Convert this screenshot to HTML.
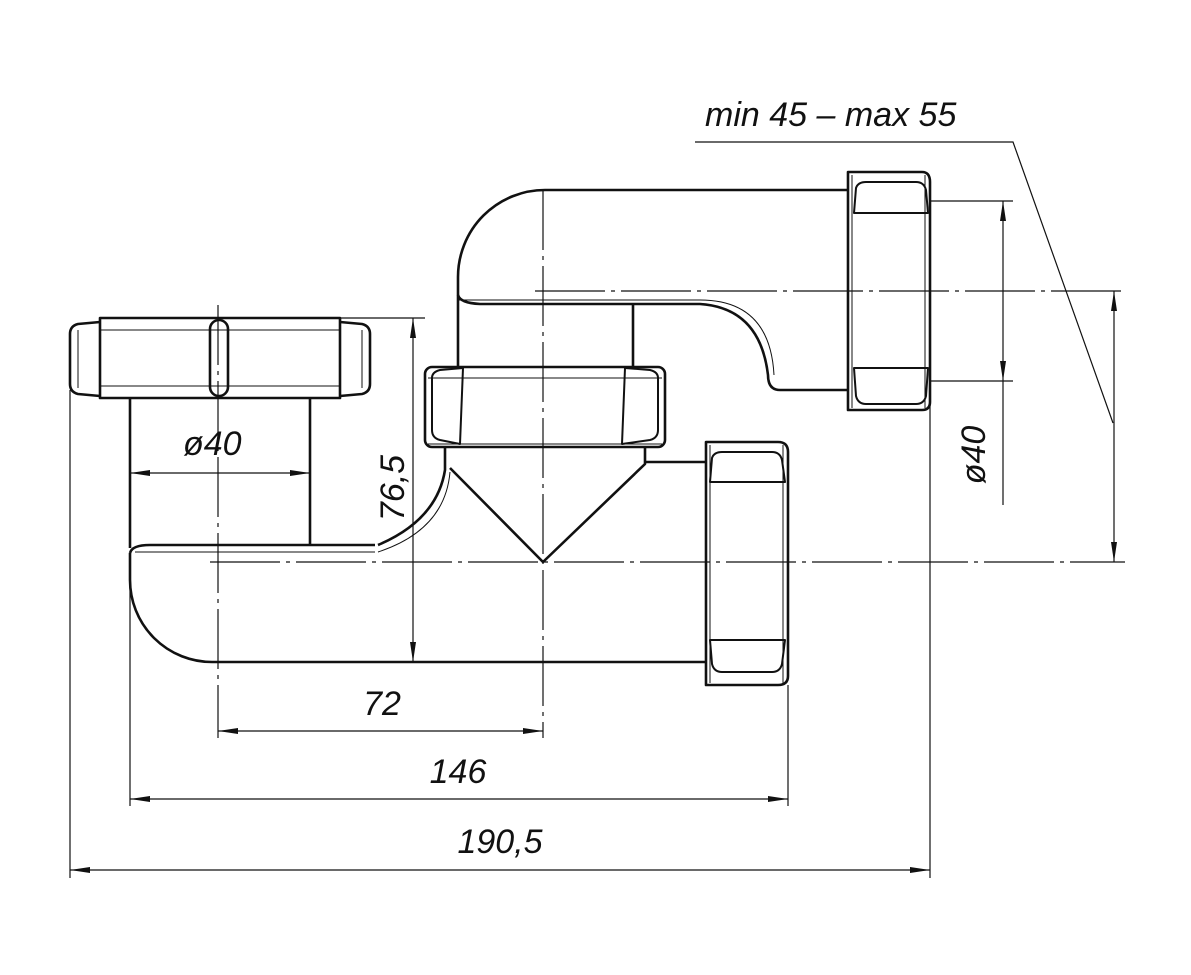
<!DOCTYPE html>
<html><head><meta charset="utf-8"><style>html,body{margin:0;padding:0;background:#fff}svg{display:block}text{font-family:"Liberation Sans",sans-serif;font-style:italic;fill:#111}</style></head>
<body>
<svg width="1191" height="975" viewBox="0 0 1191 975" xmlns="http://www.w3.org/2000/svg">
<defs>
<marker id="a" viewBox="0 0 20 6" refX="20" refY="3" markerWidth="20" markerHeight="6" markerUnits="userSpaceOnUse" orient="auto-start-reverse"><path d="M0,0 L20,3 L0,6z" fill="#111"/></marker>
</defs>
<g fill="none" stroke="#111">
<!-- thin lines -->
<g stroke-width="1.2">
<line x1="543" y1="190" x2="543" y2="738" stroke-dasharray="60,6,4,6"/>
<line x1="218" y1="305" x2="218" y2="738" stroke-dasharray="60,6,4,6"/>
<line x1="210" y1="562" x2="1125" y2="562" stroke-dasharray="70,6,4,6"/>
<line x1="535" y1="291" x2="1125" y2="291" stroke-dasharray="70,6,4,6"/>
<line x1="70" y1="390" x2="70" y2="878"/>
<line x1="930" y1="380" x2="930" y2="878"/>
<line x1="130" y1="580" x2="130" y2="806"/>
<line x1="788" y1="685" x2="788" y2="806"/>
<line x1="340" y1="318" x2="425" y2="318"/>
<line x1="930" y1="201" x2="1013" y2="201"/>
<line x1="930" y1="381" x2="1013" y2="381"/>
<line x1="413" y1="318" x2="413" y2="662" marker-start="url(#a)" marker-end="url(#a)"/>
<line x1="130" y1="473" x2="310" y2="473" marker-start="url(#a)" marker-end="url(#a)"/>
<line x1="218" y1="731" x2="543" y2="731" marker-start="url(#a)" marker-end="url(#a)"/>
<line x1="130" y1="799" x2="788" y2="799" marker-start="url(#a)" marker-end="url(#a)"/>
<line x1="70" y1="870" x2="930" y2="870" marker-start="url(#a)" marker-end="url(#a)"/>
<line x1="1003" y1="201" x2="1003" y2="381" marker-start="url(#a)" marker-end="url(#a)"/>
<line x1="1003" y1="381" x2="1003" y2="505"/>
<line x1="1114" y1="291" x2="1114" y2="562" marker-start="url(#a)" marker-end="url(#a)"/>
<polyline points="695,142 1013,142 1113,423"/>
</g>
<!-- thick outlines -->
<g stroke-width="2.6" stroke-linejoin="round">
<!-- upper elbow -->
<path d="M848,190 L545,190 A87,87 0 0 0 458,277 L458,368"/>
<path d="M458,295 Q460,303 480,304 L700,304 Q760,308 768,375 Q768,390 780,390 L848,390"/>
<line x1="633" y1="304" x2="633" y2="367"/>
<!-- middle nut -->
<rect x="425" y="367" width="240" height="80" rx="7"/>
<path d="M432,378 Q432,372 440,370 L463,368 L460,444 L440,440 Q432,438 432,430 Z" stroke-width="2"/>
<path d="M658,378 Q658,372 650,370 L625,368 L622,444 L650,440 Q658,438 658,430 Z" stroke-width="2"/>
<!-- below middle nut / V -->
<path d="M445,447 L445,470 Q437,520 378,545"/>
<polyline points="450,468 543,562 645,464 645,447"/>
<line x1="645" y1="462" x2="706" y2="462"/>
<!-- lower pipe -->
<path d="M130,553 Q132,545 150,545 L375,545"/>
<path d="M130,553 L130,580 A82,82 0 0 0 212,662 L706,662"/>
<!-- left vertical pipe -->
<line x1="130" y1="398" x2="130" y2="548"/>
<line x1="310" y1="398" x2="310" y2="545"/>
<!-- left top nut -->
<path d="M100,318 L340,318 L340,398 L100,398 Z"/>
<path d="M100,322 L78,324 Q70,326 70,334 L70,384 Q70,392 78,394 L100,396"/>
<path d="M340,322 L362,324 Q370,326 370,334 L370,384 Q370,392 362,394 L340,396"/>
<rect x="210" y="320" width="18" height="76" rx="9"/>
<!-- upper right nut -->
<path d="M848,172 L922,172 Q930,172 930,182 L930,402 Q930,410 922,410 L848,410 Z"/>
<path d="M856,188 Q858,182 866,182 L916,182 Q924,182 926,190 L928,213 L854,213 Z" stroke-width="2"/>
<path d="M854,368 L928,368 L926,396 Q924,404 916,404 L866,404 Q858,404 856,396 Z" stroke-width="2"/>
<!-- lower right nut -->
<path d="M706,442 L778,442 Q788,442 788,452 L788,676 Q788,685 778,685 L706,685 Z"/>
<path d="M712,458 Q714,452 722,452 L772,452 Q780,452 782,460 L785,482 L710,482 Z" stroke-width="2"/>
<path d="M710,640 L785,640 L782,664 Q780,672 772,672 L722,672 Q714,672 712,664 Z" stroke-width="2"/>
</g>
<!-- thin inner details -->
<g stroke-width="1">
<line x1="458" y1="300" x2="700" y2="300"/>
<path d="M700,300 Q770,300 774,375"/>
<line x1="428" y1="444" x2="662" y2="444"/>
<line x1="428" y1="378" x2="662" y2="378"/>
<line x1="925" y1="175" x2="925" y2="408"/>
<line x1="852" y1="175" x2="852" y2="408"/>
<line x1="783" y1="445" x2="783" y2="683"/>
<line x1="710" y1="445" x2="710" y2="683"/>
<line x1="100" y1="330" x2="340" y2="330"/>
<line x1="100" y1="386" x2="340" y2="386"/>
<line x1="78" y1="330" x2="78" y2="388"/>
<line x1="362" y1="330" x2="362" y2="388"/>
<line x1="135" y1="552" x2="375" y2="552"/>
<path d="M450,472 Q445,530 378,552"/>
</g>
</g>
<text x="183" y="455" font-size="34">ø40</text>
<text x="404" y="488" font-size="34" transform="rotate(-90 404 488)" text-anchor="middle">76,5</text>
<text x="382" y="715" font-size="34" text-anchor="middle">72</text>
<text x="458" y="783" font-size="34" text-anchor="middle">146</text>
<text x="500" y="853" font-size="34" text-anchor="middle">190,5</text>
<text x="985" y="455" font-size="34" transform="rotate(-90 985 455)" text-anchor="middle">ø40</text>
<text x="705" y="126" font-size="34">min 45 – max 55</text>
</svg>
</body></html>
